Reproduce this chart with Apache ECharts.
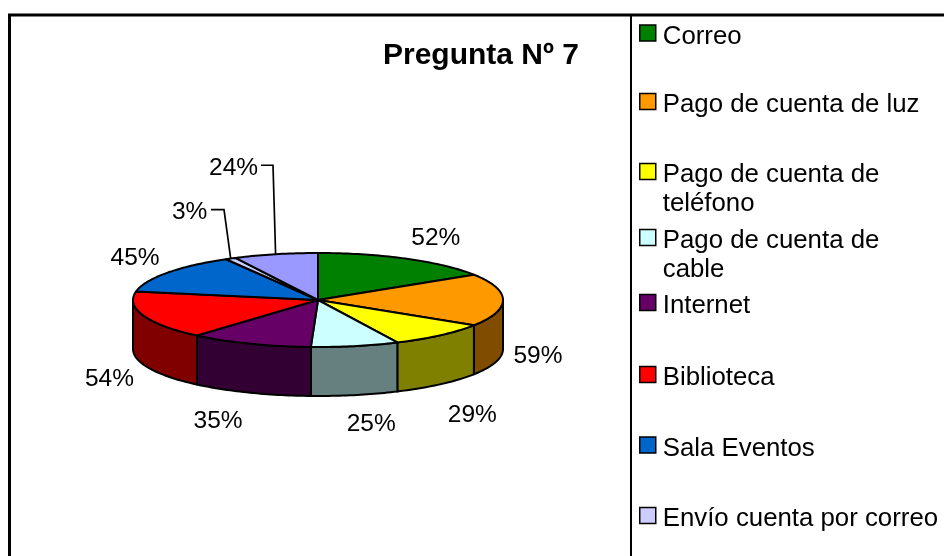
<!DOCTYPE html>
<html><head><meta charset="utf-8">
<style>html,body{margin:0;padding:0;background:#fff}#c{width:944px;height:556px}</style>
<script src="https://cdn.jsdelivr.net/npm/echarts@6/dist/echarts.min.js"></script>
</head><body><div id="c"></div>
<script>
const categories = ['Correo','Pago de cuenta de luz','Pago de cuenta de teléfono','Pago de cuenta de cable','Internet','Biblioteca','Sala Eventos','Envío cuenta por correo','Otros'];
const values = [52,59,29,25,35,54,45,3,24];
const topColors = ['#008000','#FF9900','#FFFF00','#CCFFFF','#660066','#FF0000','#0066CC','#CCCCFF','#9999FF'];
const sideColors = ['#004000','#804C00','#808000','#668080','#330033','#800000','#003366','#666680','#4C4C80'];

// layout (pixels), separate from the data
const FONT = '"Liberation Sans", Arial, sans-serif';
const CX = 318, CY = 300, RX = 185, RY = 47, DEPTH = 49;
const labelNudge = [[29,-21],[35,56],[32,80],[16,78],[-32,78],[-34,64],[-32,-15],[-41,-46],[-42,-86]];
const leaderItems = {7:[211,224], 8:[261,273]};
const legendCentreY = [34.5,103,173,239,304,376,446.5,517];
const legendLines = {2:['Pago de cuenta de','teléfono'],3:['Pago de cuenta de','cable']};

const total = values.reduce((a,b)=>a+b,0);
const pt = (t,dy)=>[CX+RX*Math.sin(t), CY-RY*Math.cos(t)+(dy||0)];
function arc(a,b,dy){const n=Math.max(2,Math.ceil((b-a)/0.02));const out=[];for(let i=0;i<=n;i++)out.push(pt(a+(b-a)*i/n,dy));return out;}

let cum = 0;
const series = values.map((v,i)=>{
  const start = cum; cum += v;
  return {
    type:'custom', name:categories[i], coordinateSystem:'none', silent:true, clip:false,
    itemStyle:{color:topColors[i]},
    data:[[start,v]],
    renderItem(params,api){
      const s=api.value(0), val=api.value(1);
      const a=s/total*2*Math.PI, b=(s+val)/total*2*Math.PI, m=(a+b)/2;
      const ch=[];
      const fa=Math.max(a,Math.PI/2), fb=Math.min(b,1.5*Math.PI);
      if(fb>fa){
        ch.push({type:'polygon',shape:{points:arc(fa,fb,0).concat(arc(fa,fb,DEPTH).reverse())},
          style:{fill:sideColors[i],stroke:'#000',lineWidth:2,lineJoin:'round'}});
      }
      ch.push({type:'polygon',shape:{points:[[CX,CY]].concat(arc(a,b,0))},
        style:{fill:topColors[i],stroke:'#000',lineWidth:2,lineJoin:'round'}});
      const e=pt(m), lx=e[0]+labelNudge[i][0], ly=e[1]+labelNudge[i][1];
      ch.push({type:'text',style:{x:lx,y:ly,text:val+'%',font:'24.5px '+FONT,fill:'#000',align:'center',verticalAlign:'middle'},z2:50});
      if(leaderItems[i]){
        const L=leaderItems[i], yy=ly-3;
        ch.push({type:'polyline',shape:{points:[[L[0],yy],[L[1],yy],e]},style:{fill:null,stroke:'#000',lineWidth:1.7},z2:40});
      }
      return {type:'group',children:ch};
    }
  };
});

const richText = {
  s:{fontSize:4,lineHeight:7,fontFamily:FONT},
  t:{fontSize:25.8,lineHeight:29,fontFamily:FONT,color:'#000'}
};
const legends = legendCentreY.map((cy,i)=>{
  const two = legendLines[i];
  return {
    show:true, orient:'vertical', left:639, top: two ? cy-47 : cy-18, padding:0,
    selectedMode:false, itemWidth:16, itemHeight:16, icon:'rect',
    data:[{name:categories[i],icon:'rect',itemStyle:{color:topColors[i],borderColor:'#000',borderWidth:1.5}}],
    formatter: ()=> two ? '{s| }\n{t| }\n{t|'+two[0]+'}\n{t|'+two[1]+'}' : '{s| }\n{t|'+categories[i]+'}',
    textStyle:{fontFamily:FONT,fontSize:25.8,color:'#000',padding:[0,0,0,2],rich:richText}
  };
});

const chart = echarts.init(document.getElementById('c'),null,{renderer:'canvas'});
chart.setOption({
  animation:false, backgroundColor:'#fff',
  title:{text:'Pregunta Nº 7',left:383,top:41,padding:0,textStyle:{fontFamily:FONT,fontSize:30,fontWeight:'bold',color:'#000'}},
  legend:legends,
  graphic:[
    {type:'line',shape:{x1:9.5,y1:15,x2:9.5,y2:556},style:{stroke:'#000',lineWidth:3},silent:true},
    {type:'line',shape:{x1:8,y1:15,x2:944,y2:15},style:{stroke:'#000',lineWidth:3},silent:true},
    {type:'line',shape:{x1:631,y1:15,x2:631,y2:556},style:{stroke:'#000',lineWidth:2},silent:true}
  ],
  series
});
</script></body></html>
